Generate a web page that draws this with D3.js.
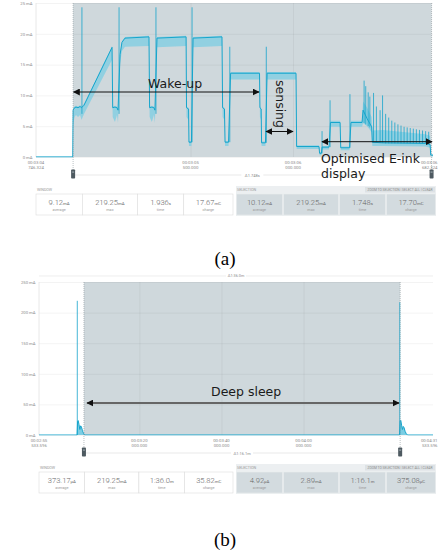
<!DOCTYPE html>
<html>
<head>
<meta charset="utf-8">
<script src="https://cdn.jsdelivr.net/npm/d3@7"></script>
<style>
  body { margin: 0; background: #fff; }
  svg { display: block; font-family: Roboto, "Liberation Sans", sans-serif; }
</style>
</head>
<body>
<svg id="fig" width="438" height="552"></svg>
<script>
// ---------- panel (a): wake-up trace, time in ms from window start, current in mA
const aTime = [0,179,181,188,195,205,215,222,234,371,374,385,395,400,410,419,434,551,554,565,575,580,590,732,734,744,746,758,766,907,910,919,922,939,949,1090,1092,1098,1100,1119,1127,1268,1271,1380,1383,1392,1395,1429,1436,1483,1486,1529,1536,1590,1595,1615,1637,1640,1692,1900,1922,1925,1936];
const aMean = [0,0,7.6,8.0,8.1,8.0,8.2,8.0,8.4,17.8,8.0,8.1,8.0,7.6,16.6,18.6,19.3,19.5,8.0,8.1,8.0,7.6,19.3,19.5,8.0,7.8,2.4,2.4,19.3,19.5,8.0,7.8,2.4,2.4,13.6,13.6,8.0,7.8,2.3,2.3,13.6,13.6,1.7,1.7,0.6,0.6,1.6,1.6,5.6,5.6,1.5,1.5,5.6,5.6,7.6,6.2,4.9,2.4,2.3,2.2,2.0,0.3,0.3];
const aMin  = [0,0,5.2,6.5,6.8,6.5,6.8,6.0,7.0,15.8,6.5,5.7,6.8,5.5,15.2,17.2,17.9,18.0,6.5,5.7,6.8,5.5,17.8,18.0,6.5,6.0,1.8,1.8,17.8,18.0,6.5,6.0,1.8,1.8,12.6,12.6,6.5,6.0,1.8,1.8,12.6,12.6,1.3,1.3,0.3,0.3,1.2,1.2,4.9,4.9,1.1,1.1,4.9,4.9,5.5,5.0,4.0,1.8,1.8,1.7,1.5,0.1,0.1];
const aMax  = [0.1,0.1,7.8,8.2,8.3,8.2,8.4,8.2,8.6,18.0,8.2,8.3,8.2,7.8,16.8,18.8,19.5,19.7,8.2,8.3,8.2,7.8,19.5,19.7,8.2,8.0,2.6,2.6,19.5,19.7,8.2,8.0,2.6,2.6,13.8,13.8,8.2,8.0,2.5,2.5,13.8,13.8,1.9,1.9,0.8,0.8,1.8,1.8,5.9,5.9,1.7,1.7,5.9,5.9,9.0,8.0,6.5,4.3,4.4,3.7,3.4,0.4,0.4];
const aSpikeTime = [224,405,585,761,945,1123,1395,1434,1531,1600,1608,1620,1628,1646,1660,1678,1690,1705,1720,1735,1750,1765,1780,1795,1810,1825,1840,1855,1870,1885,1900,1915];
const aSpikeLow  = [7,7,7,2.4,2.4,2.3,0.6,1.6,1.5,5.5,5.3,5.0,4.8,2.4,2.3,2.3,2.3,2.2,2.2,2.2,2.2,2.2,2.2,2.2,2.2,2.2,2.2,2.2,2.2,2.2,2.2,2.2];
const aSpikeHigh = [24.3,24.3,24.3,24.3,17.9,17.9,4.2,9.2,10.2,12.4,11.5,10.5,9.8,10.4,8.2,7.6,10.0,7.0,6.4,5.9,5.6,5.3,5.1,4.9,4.8,4.7,4.6,4.5,4.4,4.3,4.2,4.1];
const aYTicks = [0,5,10,15,20,25];
const aXTicks = [0,753.676,1253.676,1936];
const aXLabels = [["00:03:04","746.324"],["00:03:05","500.000"],["00:03:06","000.000"],["00:03:06","682.324"]];
const aSelection = [181,1929];
const aWindowStats = ["9.12","219.25","1.936","17.67"];
const aWindowUnits = ["mA","mA","s","mC"];
const aSelStats = ["10.12","219.25","1.748","17.70"];
const aSelUnits = ["mA","mA","s","mC"];

// ---------- panel (b): deep sleep trace, time in s from window start, current in mA
const bTime = [0,9.28,9.40,9.55,9.75,9.95,10.15,10.35,10.6,10.9,11.1,87.85,88.0,88.15,88.35,88.55,88.75,88.95,89.2,89.5,89.8,96];
const bMean = [0,0,22,23.5,17,9,15,13,7,2,0.005,0.005,23,24,16,9,14,12,6,2,0,0];
const bSpikeTime = [9.33,87.9];
const bSpikeHigh = [219.25,217];
const bYTicks = [0,50,100,150,200,250];
const bXTicks = [0,24.466,44.466,64.466,96];
const bXLabels = [["00:02:55","533.596"],["00:03:20","000.000"],["00:03:40","000.000"],["00:04:00","000.000"],["00:04:31","533.596"]];
const bSelection = [10.95,88.0];
const bWindowStats = ["373.17","219.25","1:36.0","35.82"];
const bWindowUnits = ["µA","mA","m","mC"];
const bSelStats = ["4.92","2.89","1:16.1","375.08"];
const bSelUnits = ["µA","mA","m","µC"];

const statLabels = ["average","max","time","charge"];

const svg = d3.select("#fig");
const cyan = "#16a5cc", cyanLight = "#7ccde3", shade = "#cfd8dc";

// arrow heads
const defs = svg.append("defs");
defs.append("marker").attr("id", "head")
  .attr("viewBox", "0 0 10 10").attr("refX", 9).attr("refY", 5)
  .attr("markerWidth", 7).attr("markerHeight", 7).attr("markerUnits", "userSpaceOnUse")
  .attr("orient", "auto-start-reverse")
  .append("path").attr("d", "M0,0L10,5L0,10Z").attr("fill", "#111");

function drawStats(g, x0, x1, y, vals, units, sel) {
  const fr = [0, 0.235, 0.515, 0.75, 1];
  const w = x1 - x0;
  if (sel) {
    g.append("rect").attr("x", x0).attr("y", y - 8).attr("width", w).attr("height", 30).attr("fill", "#eceff1");
  }
  g.append("text").attr("x", x0 + 1).attr("y", y - 3)
    .attr("fill", "#9a9a9a").style("font-size", "3.7px")
    .text(sel ? "SELECTION" : "WINDOW");
  if (sel) {
    g.append("rect").attr("x", x1 - 71).attr("y", y - 7).attr("width", 70).attr("height", 5.5).attr("fill", "#dde2e5");
    g.append("text").attr("x", x1 - 36).attr("y", y - 3).attr("text-anchor", "middle")
      .attr("fill", "#8a8a8a").style("font-size", "3.3px")
      .text("ZOOM TO SELECTION | SELECT ALL | CLEAR");
  }
  for (let i = 0; i < 4; i++) {
    const cx0 = x0 + fr[i] * w, cx1 = x0 + fr[i + 1] * w;
    g.append("rect").attr("x", cx0 + (sel ? 0.5 : 0)).attr("y", y)
      .attr("width", cx1 - cx0 - (sel ? 1 : 0)).attr("height", 21)
      .attr("fill", sel ? "#d3dbdf" : "#fff")
      .attr("stroke", sel ? "#e9edef" : "#dcdcdc").attr("stroke-width", 0.6);
    const t = g.append("text").attr("x", (cx0 + cx1) / 2).attr("y", y + 10.5)
      .attr("text-anchor", "middle").attr("fill", "#666");
    t.append("tspan").style("font-size", "7.6px").style("font-weight", 300).text(vals[i]);
    t.append("tspan").style("font-size", "4.3px").text(units[i]);
    g.append("text").attr("x", (cx0 + cx1) / 2).attr("y", y + 16.5)
      .attr("text-anchor", "middle").attr("fill", "#999").style("font-size", "3.8px")
      .text(statLabels[i]);
  }
}

function handle(g, x, y) {
  g.append("rect").attr("x", x - 2).attr("y", y - 4.5).attr("width", 4).attr("height", 9)
    .attr("rx", 0.8).attr("fill", "#4e5a61");
  g.append("rect").attr("x", x - 1).attr("y", y - 2.5).attr("width", 2).attr("height", 1.2).attr("fill", "#9aa5ab");
}

function panel(o) {
  const g = svg.append("g");
  const x = d3.scaleLinear().domain(o.xDomain).range([o.left, o.right]);
  const y = d3.scaleLinear().domain(o.yDomain).range([o.bottom, o.top]);
  const clipId = "clip" + o.id;
  defs.append("clipPath").attr("id", clipId).append("rect")
    .attr("x", o.left).attr("y", o.top - 1).attr("width", o.right - o.left).attr("height", o.bottom - o.top + 1.5);

  // selection shading
  g.append("rect").attr("x", x(o.sel[0])).attr("y", o.top)
    .attr("width", x(o.sel[1]) - x(o.sel[0])).attr("height", o.bottom - o.top).attr("fill", shade);

  // y grid + labels
  g.append("g").attr("transform", `translate(${o.left},0)`)
    .call(d3.axisLeft(y).tickValues(o.yTicks).tickSize(-(o.right - o.left)).tickPadding(3.5).tickFormat(d => d + " mA"))
    .attr("font-size", null).attr("font-family", null)
    .call(a => a.select(".domain").remove())
    .call(a => a.selectAll("line").attr("stroke", "rgba(0,0,0,0.07)").attr("stroke-width", 0.7))
    .call(a => a.selectAll("text").attr("fill", "#8a8a8a").style("font-size", "4.2px"));

  // x grid
  g.append("g").attr("transform", `translate(0,${o.bottom})`)
    .call(d3.axisBottom(x).tickValues(o.xTicks.slice(1, -1)).tickSize(-(o.bottom - o.top)).tickFormat(""))
    .call(a => a.select(".domain").remove())
    .call(a => a.selectAll("line").attr("stroke", "rgba(0,0,0,0.07)").attr("stroke-width", 0.7));
  g.append("line").attr("x1", o.left).attr("x2", o.left).attr("y1", o.top).attr("y2", o.bottom)
    .attr("stroke", "#e2e2e2").attr("stroke-width", 0.8);

  // x labels (two lines); the last one is right-aligned to stay inside the page
  const last = o.xTicks.length - 1;
  const lab = g.selectAll("text.xl").data(o.xTicks).enter().append("text")
    .attr("class", "xl").attr("text-anchor", (d, i) => i === last ? "end" : "middle")
    .attr("fill", "#8a8a8a").style("font-size", "4.3px");
  const lx = (d, i) => i === last ? 437.5 : x(d);
  lab.append("tspan").attr("x", lx).attr("y", o.bottom + 6.5).text((d, i) => o.xLabels[i][0]);
  lab.append("tspan").attr("x", lx).attr("y", o.bottom + 12).text((d, i) => o.xLabels[i][1]);

  // trace
  const tr = g.append("g").attr("clip-path", `url(#${clipId})`);
  if (o.min) {
    tr.append("path").datum(o.time)
      .attr("d", d3.area().x(d => x(d)).y0((d, i) => y(o.min[i])).y1((d, i) => y(o.max[i])))
      .attr("fill", cyanLight).attr("fill-opacity", 0.75);
  } else {
    tr.append("path").datum(o.time)
      .attr("d", d3.area().x(d => x(d)).y0(y(0)).y1((d, i) => y(o.mean[i])))
      .attr("fill", cyanLight);
  }
  tr.selectAll("line.sp").data(o.spikeTime).enter().append("line").attr("class", "sp")
    .attr("x1", d => x(d)).attr("x2", d => x(d))
    .attr("y1", (d, i) => y(o.spikeLow ? o.spikeLow[i] : 0))
    .attr("y2", (d, i) => y(o.spikeHigh[i]))
    .attr("stroke", cyan).attr("stroke-width", 0.8);
  tr.append("path").datum(o.time)
    .attr("d", d3.line().x(d => x(d)).y((d, i) => y(o.mean[i])))
    .attr("fill", "none").attr("stroke", cyan).attr("stroke-width", 1);

  // selection edges + handles
  o.sel.forEach(s => {
    g.append("line").attr("x1", x(s)).attr("x2", x(s)).attr("y1", o.top).attr("y2", o.handleY)
      .attr("stroke", "#8d979c").attr("stroke-width", 0.6).attr("stroke-dasharray", "1,1");
  });
  g.append("line").attr("x1", x(o.sel[0])).attr("x2", x(o.sel[1])).attr("y1", o.handleY + 1).attr("y2", o.handleY + 1)
    .attr("stroke", "#e0e0e0").attr("stroke-width", 0.7);
  const mid = (x(o.sel[0]) + x(o.sel[1])) / 2;
  g.append("rect").attr("x", mid - 11).attr("y", o.handleY - 1).attr("width", 22).attr("height", 4).attr("fill", "#fff");
  g.append("text").attr("x", mid).attr("y", o.handleY + 2.5).attr("text-anchor", "middle")
    .attr("fill", "#8a8a8a").style("font-size", "4px").text(o.delta);
  handle(g, x(o.sel[0]), o.handleY);
  handle(g, x(o.sel[1]), o.handleY);

  if (o.topDelta) {
    const ty = o.top - 6;
    g.append("line").attr("x1", o.left).attr("x2", o.right).attr("y1", ty).attr("y2", ty)
      .attr("stroke", "#e6e6e6").attr("stroke-width", 0.7);
    const tm = (o.left + o.right) / 2;
    g.append("rect").attr("x", tm - 10).attr("y", ty - 2).attr("width", 20).attr("height", 4).attr("fill", "#fff");
    g.append("text").attr("x", tm).attr("y", ty + 1.4).attr("text-anchor", "middle")
      .attr("fill", "#8a8a8a").style("font-size", "3.8px").text(o.topDelta);
  }

  drawStats(g, o.left, 233, o.statsY, o.wStats, o.wUnits, false);
  drawStats(g, 236, 436, o.statsY, o.sStats, o.sUnits, true);
  return { x, y };
}

panel({
  id: "a", xDomain: [0, 1936], yDomain: [0, 25], left: 36, right: 433, top: 3, bottom: 157,
  sel: aSelection, yTicks: aYTicks, xTicks: aXTicks, xLabels: aXLabels,
  time: aTime, mean: aMean, min: aMin, max: aMax,
  spikeTime: aSpikeTime, spikeLow: aSpikeLow, spikeHigh: aSpikeHigh,
  handleY: 174, delta: "Δ1.748s", statsY: 194,
  wStats: aWindowStats, wUnits: aWindowUnits, sStats: aSelStats, sUnits: aSelUnits
});

panel({
  id: "b", xDomain: [0, 96], yDomain: [0, 250], left: 39, right: 433, top: 282, bottom: 435,
  sel: bSelection, yTicks: bYTicks, xTicks: bXTicks, xLabels: bXLabels,
  time: bTime, mean: bMean,
  spikeTime: bSpikeTime, spikeHigh: bSpikeHigh,
  handleY: 452, delta: "Δ1:16.1m", topDelta: "Δ1:36.0m", statsY: 472,
  wStats: bWindowStats, wUnits: bWindowUnits, sStats: bSelStats, sUnits: bSelUnits
});

// ---------- annotations
const ann = svg.append("g").style("font-family", "'DejaVu Sans', Verdana, sans-serif").attr("fill", "#1a1a1a");
function arrow(x1, x2, yy, color, w) {
  ann.append("line").attr("x1", x1).attr("x2", x2).attr("y1", yy).attr("y2", yy)
    .attr("stroke", color).attr("stroke-width", w)
    .attr("marker-start", "url(#head)").attr("marker-end", "url(#head)");
}
ann.append("text").attr("x", 148).attr("y", 87.5).style("font-size", "12.5px").text("Wake-up");
arrow(73.5, 259, 92, "#111", 1);
ann.append("text").attr("transform", "translate(275.5,80) rotate(90)").style("font-size", "12.5px").text("sensing");
arrow(266, 293, 131.5, "#111", 1);
ann.append("text").attr("x", 321).attr("y", 162.5).style("font-size", "12.5px").text("Optimised E-ink");
ann.append("text").attr("x", 321).attr("y", 177.5).style("font-size", "12.5px").text("display");
arrow(322, 432, 141.7, "#111", 1);
ann.append("text").attr("x", 211).attr("y", 396).style("font-size", "12.5px").text("Deep sleep");
arrow(87, 399, 403, "#666", 1.8);

// captions
svg.append("text").attr("x", 225).attr("y", 265).attr("text-anchor", "middle")
  .style("font-family", "'Liberation Serif', 'Times New Roman', serif").style("font-size", "19px").text("(a)");
svg.append("text").attr("x", 225).attr("y", 546).attr("text-anchor", "middle")
  .style("font-family", "'Liberation Serif', 'Times New Roman', serif").style("font-size", "19px").text("(b)");
</script>
</body>
</html>
